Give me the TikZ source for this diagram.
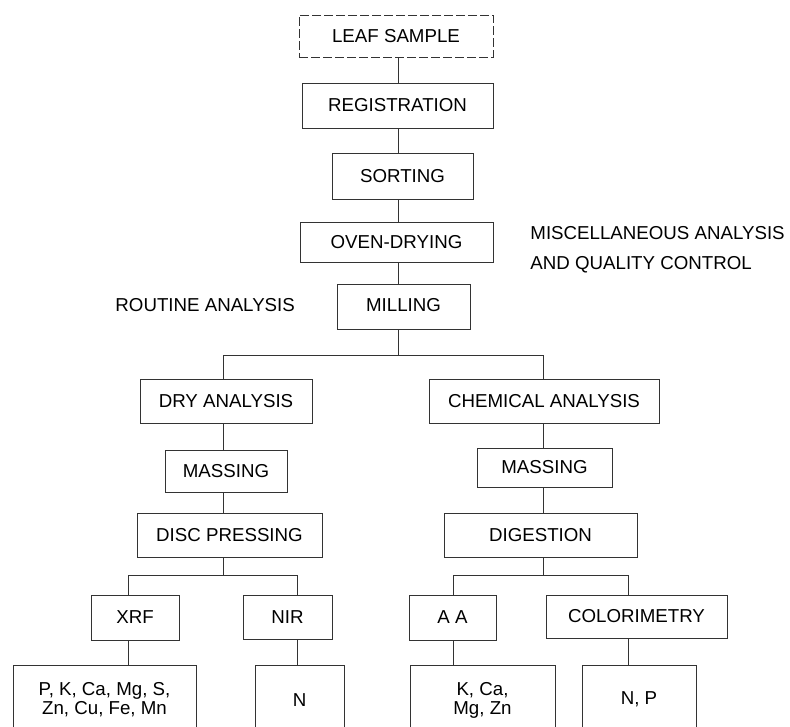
\documentclass[tikz,border=0pt]{standalone}
\usepackage{fontspec}
\setmainfont{Liberation Sans}
\usetikzlibrary{positioning}

\begin{document}
\begin{tikzpicture}[
  x=1pt, y=-1pt,
  line width=0.9pt, draw=black!80,
  font=\fontsize{18.7}{18}\selectfont,
  stage/.style={draw=black!80,rectangle,align=center,inner sep=0pt},
  dims/.style 2 args={minimum width=#1pt,minimum height=#2pt},
  label/.style={inner sep=0pt,align=left,anchor=west}
]
\useasboundingbox (0,0) rectangle (790,727);
\clip (0,0) rectangle (790,727);

% main line
\node[stage, dims={194}{42}, dash pattern=on 9pt off 3pt] (leaf) at (396,36) {LEAF SAMPLE};
\node[stage, dims={191}{45}] (reg) at (397.5,105.5) {REGISTRATION};
\node[stage, dims={141}{46}] (sort) at (402.5,176) {SORTING};
\node[stage, dims={193}{40}] (oven) at (396.5,242) {OVEN-DRYING};
\node[stage, dims={133}{45}] (mill) at (403.5,306.5) {\raisebox{3pt}{MILLING}};

\node[label] (misc) at (530,250) {MISCELLANEOUS ANALYSIS\\[12pt]AND QUALITY CONTROL};
\node[label] (routine) at (115,305) {ROUTINE ANALYSIS};

% dry side
\node[stage, dims={172}{44}] (dry) at (226,401) {DRY ANALYSIS};
\node[stage, dims={122}{42}] (mass1) at (226,471) {MASSING};
\node[stage, dims={185}{44}] (disc) at (229.5,535) {DISC PRESSING};
\node[stage, dims={88}{45}] (xrf) at (135,617.5) {XRF};
\node[stage, dims={89}{44}] (nir) at (287.5,617) {NIR};
\node[stage, dims={183}{70}] (xrfout) at (104.5,700) {P, K, Ca, Mg, S,\\[1pt]Zn, Cu, Fe, Mn};
\node[stage, dims={89}{70}] (nirout) at (299.5,700) {N};

% chemical side
\node[stage, dims={230}{44}] (chem) at (544,401) {CHEMICAL ANALYSIS};
\node[stage, dims={135}{39}] (mass2) at (544.5,467.5) {MASSING};
\node[stage, dims={193}{44}] (dig) at (540.5,535) {DIGESTION};
\node[stage, dims={87}{45}] (aa) at (452.5,617.5) {A A};
\node[stage, dims={181}{43}] (col) at (636.5,616.5) {COLORIMETRY};
\node[stage, dims={145}{70}] (aaout) at (482.5,700) {K, Ca,\\[1pt]Mg, Zn};
\node[stage, dims={114}{70}] (colout) at (639,700) {\raisebox{4pt}{N, P}};

\coordinate (trunk) at (398,355);
\coordinate (dryL) at (223,355);
\coordinate (chemL) at (543,355);
\coordinate (xrfL) at (128,575);
\coordinate (nirL) at (297,575);
\coordinate (aaL) at (453,575);
\coordinate (colL) at (628,575);

\draw (trunk |- leaf.south) -- (trunk |- reg.north)
      (trunk |- reg.south) -- (trunk |- sort.north)
      (trunk |- sort.south) -- (trunk |- oven.north)
      (trunk |- oven.south) -- (trunk |- mill.north)
      (trunk |- mill.south) -- (trunk);
\draw (dryL |- dry.north) -- (dryL) -- (chemL) -- (chemL |- chem.north);

\draw (dryL |- dry.south) -- (dryL |- mass1.north)
      (dryL |- mass1.south) -- (dryL |- disc.north)
      (dryL |- disc.south) -- (dryL |- xrfL);
\draw (xrfL |- xrf.north) -- (xrfL) -- (nirL) -- (nirL |- nir.north);
\draw (xrfL |- xrf.south) -- (xrfL |- xrfout.north)
      (nirL |- nir.south) -- (nirL |- nirout.north);

\draw (chemL |- chem.south) -- (chemL |- mass2.north)
      (chemL |- mass2.south) -- (chemL |- dig.north)
      (chemL |- dig.south) -- (chemL |- aaL);
\draw (aaL |- aa.north) -- (aaL) -- (colL) -- (colL |- col.north);
\draw (aaL |- aa.south) -- (aaL |- aaout.north)
      (colL |- col.south) -- (colL |- colout.north);

\end{tikzpicture}
\end{document}
